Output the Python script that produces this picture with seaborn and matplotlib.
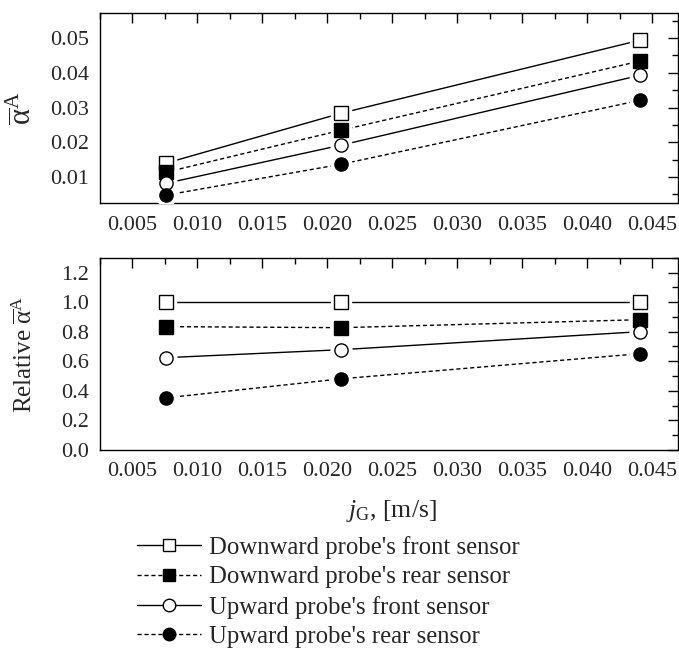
import numpy as np
import pandas as pd
import matplotlib
matplotlib.use("Agg")
import matplotlib.pyplot as plt
from matplotlib.lines import Line2D
from matplotlib.ticker import MultipleLocator
import seaborn as sns

# data
jg = [0.0076, 0.0211, 0.0441]
series = ["Downward probe's front sensor", "Downward probe's rear sensor",
          "Upward probe's front sensor", "Upward probe's rear sensor"]
alpha_mean = [[0.0140, 0.0284, 0.0494],
              [0.0114, 0.0235, 0.0434],
              [0.0082, 0.0192, 0.0393],
              [0.0048, 0.0137, 0.0321]]
alpha_rel = [[1.000, 1.000, 1.000],
             [0.834, 0.827, 0.881],
             [0.624, 0.678, 0.800],
             [0.352, 0.481, 0.651]]
xticks = [0.005, 0.010, 0.015, 0.020, 0.025, 0.030, 0.035, 0.040, 0.045]
yticks_top = [0.01, 0.02, 0.03, 0.04, 0.05]
yticks_bot = [0.0, 0.2, 0.4, 0.6, 0.8, 1.0, 1.2]

markers = ['s', 's', 'o', 'o']
faces = ['white', 'black', 'white', 'black']
styles = ['-', (0, (3, 2)), '-', (0, (3, 2))]

sns.set_theme(style='white')
plt.rcParams['font.family'] = ['Liberation Serif', 'DejaVu Serif']
plt.rcParams['mathtext.fontset'] = 'custom'
plt.rcParams['mathtext.rm'] = 'Liberation Serif'
plt.rcParams['mathtext.it'] = 'Liberation Serif:italic'
plt.rcParams['font.size'] = 16

fig = plt.figure(figsize=(6.79, 6.51), dpi=100)
ax1 = fig.add_axes([0.147, 0.688, 0.8515, 0.292])
ax2 = fig.add_axes([0.147, 0.309, 0.8515, 0.295])

rows = []
for i, s in enumerate(series):
    for k, x in enumerate(jg):
        rows.append({'jg': x, 'series': s, 'mean': alpha_mean[i][k], 'rel': alpha_rel[i][k]})
df = pd.DataFrame(rows)

for ax, col in [(ax1, 'mean'), (ax2, 'rel')]:
    for i, s in enumerate(series):
        d = df[df['series'] == s]
        sns.lineplot(data=d, x='jg', y=col, ax=ax, color='black', lw=1.0,
                     linestyle=styles[i], legend=False, zorder=2)
        # white halo so lines stop short of the markers
        ax.plot(d['jg'], d[col], ls='none', marker=markers[i], ms=15,
                mfc='white', mec='white', zorder=3)
        ax.plot(d['jg'], d[col], ls='none', marker=markers[i], ms=9.5,
                mfc=faces[i], mec='black', mew=1.0, zorder=4)
    ax.set_xlim(0.0025, 0.0470)
    ax.set_xticks(xticks)
    ax.set_xticklabels(['%.3f' % v for v in xticks])
    ax.xaxis.set_minor_locator(MultipleLocator(0.0025))
    ax.tick_params(which='both', direction='in', top=True, right=True,
                   labelsize=16, width=1.0, color='black')
    ax.tick_params(axis='x', which='major', length=7, pad=9)
    ax.tick_params(axis='y', which='major', length=7, pad=8)
    ax.tick_params(which='minor', length=4)
    for sp in ax.spines.values():
        sp.set_color('black')
        sp.set_linewidth(1.0)
    ax.set_xlabel('')

ax1.set_ylim(0.0025, 0.0572)
ax1.set_yticks(yticks_top)
ax1.set_yticklabels(['%.2f' % v for v in yticks_top])
ax1.yaxis.set_minor_locator(MultipleLocator(0.005))
ax1.set_ylabel(r'$\overline{\mathrm{\alpha}}^{\mathrm{A}}$', fontsize=22)
ax1.yaxis.set_label_coords(-0.108, 0.5)

ax2.set_ylim(0.0, 1.3)
ax2.set_yticks(yticks_bot)
ax2.set_yticklabels(['%.1f' % v for v in yticks_bot])
ax2.yaxis.set_minor_locator(MultipleLocator(0.1))
ax2.set_ylabel(r'Relative $\overline{\mathrm{\alpha}}^{\mathrm{A}}$', fontsize=18)
ax2.yaxis.set_label_coords(-0.108, 0.5)

fig.text(0.577, 1 - 511 / 651, r'$j_{\mathrm{G}}$, [m/s]', ha='center', va='center', fontsize=18.5)

handles = [Line2D([0], [0], color='black', lw=1.0, linestyle=styles[i],
                  marker=markers[i], ms=9, mfc=faces[i], mec='black')
           for i in range(4)]
fig.legend(handles, series, loc='upper left', bbox_to_anchor=(137 / 679, 1 - 536 / 651),
           frameon=False, fontsize=17.8, handlelength=2.6, handletextpad=0.3,
           labelspacing=0.29, borderpad=0, borderaxespad=0)

fig.savefig('out.png', dpi=100)
